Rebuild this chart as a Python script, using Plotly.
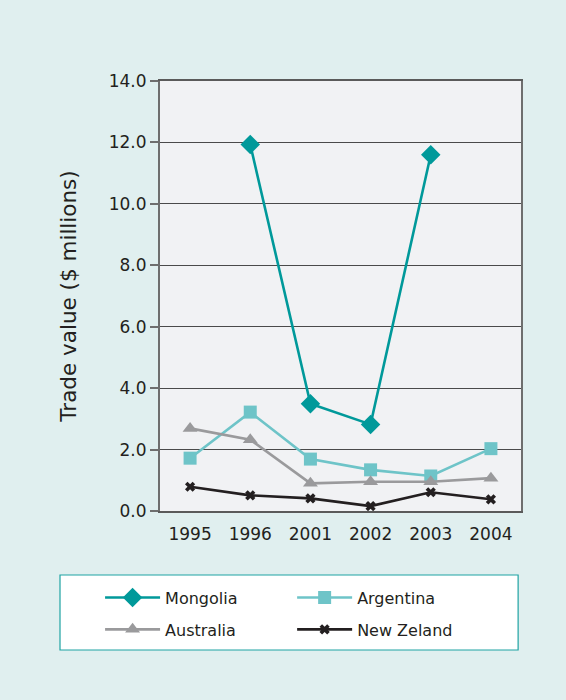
import plotly.graph_objects as go

# Trade value by partner country ($ millions)
years = ["1995", "1996", "2001", "2002", "2003", "2004"]
mongolia = [None, 11.93, 3.49, 2.82, 11.60, None]
argentina = [1.72, 3.22, 1.69, 1.34, 1.14, 2.03]
australia = [2.69, 2.32, 0.90, 0.95, 0.95, 1.07]
new_zealand = [0.79, 0.51, 0.41, 0.16, 0.61, 0.38]

y_ticks = [0, 2, 4, 6, 8, 10, 12, 14]

FONT = "DejaVu Sans"

fig = go.Figure()

series = [
    ("Mongolia", mongolia, "#00999A", "diamond", 15, "legend", "g1"),
    ("Argentina", argentina, "#6EC4C8", "square", 13, "legend2", "g2"),
    ("Australia", australia, "#9A9A9C", "triangle-up", 13, "legend", "g3"),
    ("New Zeland", new_zealand, "#231F20", "x", 9, "legend2", "g4"),
]

for name, vals, color, symbol, size, leg, grp in series:
    fig.add_trace(go.Scatter(
        x=years, y=vals, name=name, mode="lines+markers",
        line=dict(color=color, width=2.6),
        marker=dict(symbol=symbol, size=size, color=color),
        connectgaps=False, legend=leg, legendgroup=grp,
    ))

# white legend box with teal border
fig.add_shape(type="rect", xref="paper", yref="paper",
              x0=-0.277, x1=0.992, y0=-0.3233, y1=-0.1488,
              fillcolor="white", line=dict(color="#1FA3A3", width=1.2))

legend_common = dict(
    orientation="v", yanchor="top", y=-0.162, xanchor="left",
    bgcolor="rgba(0,0,0,0)", borderwidth=0, tracegroupgap=8,
    itemwidth=55, font=dict(family=FONT, size=16, color="#231F20"),
)

fig.update_layout(
    width=566, height=700,
    margin=dict(l=160, r=45, t=81, b=189),
    paper_bgcolor="#E0EFEF",
    plot_bgcolor="#F1F2F4",
    font=dict(family=FONT, size=17, color="#231F20"),
    legend=dict(x=-0.166, **legend_common),
    legend2=dict(x=0.366, **legend_common),
    xaxis=dict(
        type="category", range=[-0.5, 5.5], showgrid=False,
        showline=True, mirror=True, linecolor="#5A5A5A", linewidth=2,
        ticks="", tickfont=dict(size=17), ticklabelstandoff=7,
    ),
    yaxis=dict(
        range=[0, 14], tickvals=y_ticks,
        ticktext=[f"{v:.1f}" for v in y_ticks],
        showgrid=True, gridcolor="#4A4A4A", gridwidth=1,
        showline=True, mirror=True, linecolor="#6E6E6E", linewidth=2,
        ticks="outside", ticklen=8, tickcolor="#6E6E6E", tickwidth=2,
        tickfont=dict(size=17), zeroline=False,
        title=dict(text="Trade value ($ millions)", font=dict(size=21.5), standoff=26),
    ),
)

fig.write_html(
    "out.html",
    config={"displayModeBar": False},
    post_script="document.body.style.margin='0';document.body.style.background='#E0EFEF';",
)
